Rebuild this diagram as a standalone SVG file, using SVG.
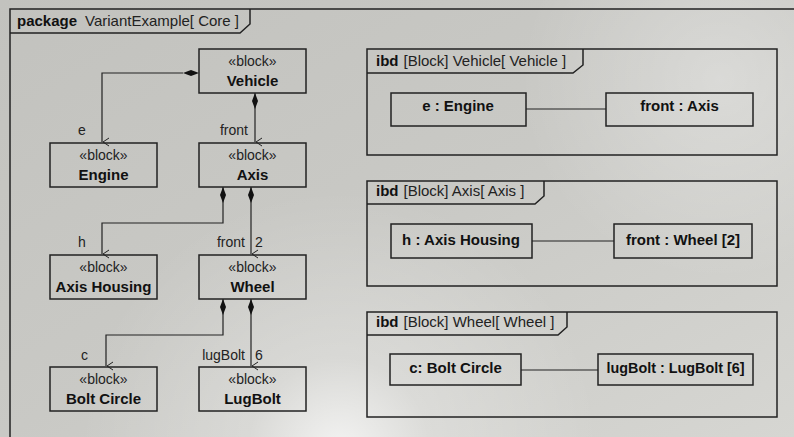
<svg xmlns="http://www.w3.org/2000/svg" width="794" height="437" viewBox="0 0 794 437">
<defs>
<linearGradient id="bg" x1="0" y1="0" x2="1" y2="1">
<stop offset="0" stop-color="#c2c2be"/>
<stop offset="0.5" stop-color="#c9c9c5"/>
<stop offset="1" stop-color="#d6d6d2"/>
</linearGradient>
<radialGradient id="glow" cx="340" cy="450" r="260" gradientUnits="userSpaceOnUse">
<stop offset="0" stop-color="#ffffff" stop-opacity="0.75"/>
<stop offset="0.35" stop-color="#ffffff" stop-opacity="0.25"/>
<stop offset="1" stop-color="#ffffff" stop-opacity="0"/>
</radialGradient>
<radialGradient id="glow2" cx="720" cy="80" r="200" gradientUnits="userSpaceOnUse">
<stop offset="0" stop-color="#ffffff" stop-opacity="0.3"/>
<stop offset="1" stop-color="#ffffff" stop-opacity="0"/>
</radialGradient>
<marker id="arrow" viewBox="0 0 10 10" refX="5" refY="10" markerWidth="10" markerHeight="10" markerUnits="userSpaceOnUse" orient="auto-start-reverse">
<path d="M1,3 L5,9 L9,3" fill="none" stroke="#222" stroke-width="1"/>
</marker>
<marker id="diamond" viewBox="0 0 16 6" refX="0" refY="3" markerWidth="16" markerHeight="6" markerUnits="userSpaceOnUse" orient="auto">
<path d="M0,3 L8,0 L16,3 L8,6 Z" fill="#111"/>
</marker>
</defs>
<style>
.frame{fill:none;stroke:#222;stroke-width:1.5}
.box{fill:none;stroke:#222;stroke-width:1.5}
.conn{fill:none;stroke:#222;stroke-width:1.2}
.st{font-family:"Liberation Sans",Arial,sans-serif;font-size:14px;fill:#222;text-anchor:middle}
.nm{font-family:"Liberation Sans",Arial,sans-serif;font-size:15px;font-weight:bold;fill:#111;text-anchor:middle}
.lbl{font-family:"Liberation Sans",Arial,sans-serif;font-size:14px;fill:#222}
.tk{font-family:"Liberation Sans",Arial,sans-serif;font-size:15px;font-weight:bold;fill:#111}
.tr{font-family:"Liberation Sans",Arial,sans-serif;font-size:15px;fill:#222}
</style>
<rect x="0" y="0" width="794" height="437" fill="url(#bg)"/>
<rect x="0" y="0" width="794" height="437" fill="url(#glow)"/>
<rect x="0" y="0" width="794" height="437" fill="url(#glow2)"/>

<g id="package-frame">
<path class="frame" d="M10,437 V9 H794"/>
<path class="frame" d="M10,33 H240 L250,24 V9"/>
<text x="17" y="26"><tspan class="tk">package</tspan><tspan class="tr" dx="8">VariantExample[ Core ]</tspan></text>
</g>

<g id="connectors">
<path class="conn" d="M183,73 H102 V142" marker-end="url(#arrow)"/>
<path d="M183,73 L191,70 L199,73 L191,76 Z" fill="#111"/>
<path class="conn" d="M255,93 V142" marker-end="url(#arrow)"/>
<path d="M255,93 L258,101 L255,109 L252,101 Z" fill="#111"/>
<path class="conn" d="M223,187 V223 H102 V254" marker-end="url(#arrow)"/>
<path d="M223,187 L226,195 L223,203 L220,195 Z" fill="#111"/>
<path class="conn" d="M251,187 V254" marker-end="url(#arrow)"/>
<path d="M251,187 L254,195 L251,203 L248,195 Z" fill="#111"/>
<path class="conn" d="M223,299 V335 H106 V366" marker-end="url(#arrow)"/>
<path d="M223,299 L226,307 L223,315 L220,307 Z" fill="#111"/>
<path class="conn" d="M251,299 V366" marker-end="url(#arrow)"/>
<path d="M251,299 L254,307 L251,315 L248,307 Z" fill="#111"/>
<text class="lbl" x="78" y="135">e</text>
<text class="lbl" x="248" y="135" text-anchor="end">front</text>
<text class="lbl" x="78" y="247">h</text>
<text class="lbl" x="245" y="247" text-anchor="end">front</text>
<text class="lbl" x="255" y="247">2</text>
<text class="lbl" x="81" y="360">c</text>
<text class="lbl" x="245" y="360" text-anchor="end">lugBolt</text>
<text class="lbl" x="255" y="360">6</text>
<path class="conn" d="M526,109 H606"/>
<path class="conn" d="M532,241 H614"/>
<path class="conn" d="M521,370 H598"/>
</g>

<g id="vehicle">
<rect class="box" x="199" y="49" width="107" height="44"/>
<text class="st" x="252.5" y="66">«block»</text>
<text class="nm" x="252.5" y="86">Vehicle</text>
</g>
<g id="engine">
<rect class="box" x="50" y="143" width="107" height="44"/>
<text class="st" x="103.5" y="160">«block»</text>
<text class="nm" x="103.5" y="180">Engine</text>
</g>
<g id="axis">
<rect class="box" x="199" y="143" width="107" height="44"/>
<text class="st" x="252.5" y="160">«block»</text>
<text class="nm" x="252.5" y="180">Axis</text>
</g>
<g id="axis-housing">
<rect class="box" x="50" y="255" width="107" height="44"/>
<text class="st" x="103.5" y="272">«block»</text>
<text class="nm" x="103.5" y="292">Axis Housing</text>
</g>
<g id="wheel">
<rect class="box" x="199" y="255" width="107" height="44"/>
<text class="st" x="252.5" y="272">«block»</text>
<text class="nm" x="252.5" y="292">Wheel</text>
</g>
<g id="bolt-circle">
<rect class="box" x="50" y="367" width="107" height="44"/>
<text class="st" x="103.5" y="384">«block»</text>
<text class="nm" x="103.5" y="404">Bolt Circle</text>
</g>
<g id="lugbolt">
<rect class="box" x="199" y="367" width="107" height="44"/>
<text class="st" x="252.5" y="384">«block»</text>
<text class="nm" x="252.5" y="404">LugBolt</text>
</g>

<g id="ibd-vehicle">
<rect class="frame" x="367" y="49" width="410" height="106"/>
<path class="frame" d="M367,73 H573 L583,65 V49"/>
<text x="376" y="66"><tspan class="tk">ibd</tspan><tspan class="tr" dx="5">[Block] Vehicle[ Vehicle ]</tspan></text>
<g id="part-e">
<rect class="box" x="391" y="93" width="135" height="33"/>
<text class="nm" x="458" y="110.5">e : Engine</text>
</g>
<g id="part-front-axis">
<rect class="box" x="606" y="93" width="147" height="33"/>
<text class="nm" x="679.5" y="110.5">front : Axis</text>
</g>
</g>

<g id="ibd-axis">
<rect class="frame" x="367" y="181" width="410" height="105"/>
<path class="frame" d="M367,204 H535 L544,196 V181"/>
<text x="376" y="196"><tspan class="tk">ibd</tspan><tspan class="tr" dx="5">[Block] Axis[ Axis ]</tspan></text>
<g id="part-h">
<rect class="box" x="391" y="224" width="141" height="34"/>
<text class="nm" x="461" y="245">h : Axis Housing</text>
</g>
<g id="part-front-wheel">
<rect class="box" x="614" y="224" width="138" height="34"/>
<text class="nm" x="683" y="245">front : Wheel [2]</text>
</g>
</g>

<g id="ibd-wheel">
<rect class="frame" x="367" y="312" width="410" height="105"/>
<path class="frame" d="M367,335 H558 L567,327 V312"/>
<text x="376" y="327"><tspan class="tk">ibd</tspan><tspan class="tr" dx="5">[Block] Wheel[ Wheel ]</tspan></text>
<g id="part-c">
<rect class="box" x="390" y="354" width="131" height="31"/>
<text class="nm" x="455.5" y="372.5">c: Bolt Circle</text>
</g>
<g id="part-lugbolt">
<rect class="box" x="598" y="354" width="155" height="31"/>
<text class="nm" x="675.5" y="372.5" textLength="138" lengthAdjust="spacingAndGlyphs">lugBolt : LugBolt [6]</text>
</g>
</g>
</svg>
